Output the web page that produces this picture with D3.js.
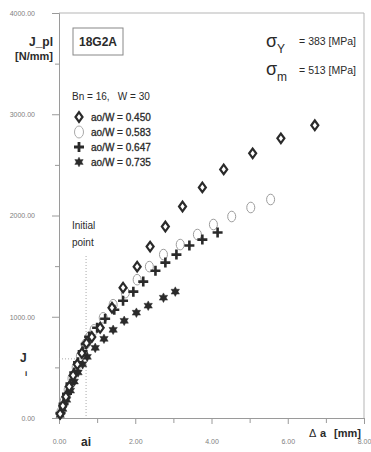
<!DOCTYPE html>
<html>
<head>
<meta charset="utf-8">
<script src="https://cdn.jsdelivr.net/npm/d3@7"></script>
<style>
  body { margin: 0; background: #fff; }
  svg { display: block; font-family: "Liberation Sans", Arial, sans-serif; }
  text { white-space: pre; }
</style>
</head>
<body>
<svg id="chart" width="371" height="452"></svg>
<script>
// crack growth da [mm] vs J [N/mm], four ao/W ratios
const da450 = [0.03, 0.10, 0.18, 0.27, 0.37, 0.48, 0.60, 0.72, 0.86, 1.08, 1.39, 1.68, 2.05, 2.39, 2.79, 3.24, 3.76, 4.32, 5.08, 5.82, 6.71];
const J450  = [40, 120, 210, 310, 420, 530, 640, 740, 800, 891, 1089, 1287, 1495, 1693, 1891, 2089, 2277, 2455, 2614, 2762, 2891];

const da583 = [0.05, 0.14, 0.24, 0.34, 0.45, 0.56, 0.70, 0.80, 0.92, 1.16, 1.42, 1.74, 2.05, 2.37, 2.74, 3.18, 3.63, 4.05, 4.53, 5.03, 5.55];
const J583  = [60, 170, 280, 390, 500, 610, 730, 800, 871, 990, 1119, 1238, 1366, 1495, 1614, 1713, 1812, 1911, 1990, 2079, 2158];

const da647 = [0.04, 0.12, 0.21, 0.30, 0.40, 0.50, 0.62, 0.70, 0.79, 1.00, 1.21, 1.45, 1.68, 1.95, 2.21, 2.53, 2.79, 3.08, 3.42, 3.76, 4.16];
const J647  = [50, 140, 240, 340, 450, 550, 660, 730, 802, 891, 980, 1069, 1158, 1248, 1347, 1455, 1535, 1614, 1703, 1762, 1832];

const da735 = [0.03, 0.10, 0.20, 0.30, 0.40, 0.50, 0.62, 0.74, 0.95, 1.18, 1.42, 1.71, 2.03, 2.34, 2.74, 3.05];
const J735  = [30, 90, 180, 270, 360, 450, 530, 604, 693, 782, 871, 960, 1040, 1109, 1188, 1248];

const xTicks = [0, 2, 4, 6, 8];
const yTicks = [0, 1000, 2000, 3000, 4000];
const legendLabels = ["ao/W = 0.450", "ao/W = 0.583", "ao/W = 0.647", "ao/W = 0.735"];
const ai = 0.71, Ji = 584;

const svg = d3.select("#chart");
const ink = "#2a2a2a";
const axisGrey = "#9a9a9a";

const x = d3.scaleLinear().domain([0, 8]).range([59, 364]);
const y = d3.scaleLinear().domain([0, 4000]).range([418, 13]);

// frame top + right
svg.append("path")
  .attr("d", `M${x(0)},${y(4000)}H${x(8)}V${y(0)}`)
  .attr("fill", "none").attr("stroke", "#b5b5b5").attr("stroke-width", 1);

// minor ticks
svg.append("g").attr("transform", `translate(0,${y(0)})`)
  .call(d3.axisBottom(x).tickValues([1, 3, 5, 7]).tickSize(5).tickFormat(""))
  .call(g => g.select(".domain").remove())
  .call(g => g.selectAll("line").attr("stroke", axisGrey));
svg.append("g").attr("transform", `translate(${x(0)},0)`)
  .call(d3.axisLeft(y).tickValues([500, 1500, 2500, 3500]).tickSize(4).tickFormat(""))
  .call(g => g.select(".domain").remove())
  .call(g => g.selectAll("line").attr("stroke", axisGrey));

const xAxis = svg.append("g").attr("transform", `translate(0,${y(0)})`)
  .call(d3.axisBottom(x).tickValues(xTicks).tickSizeOuter(0).tickSize(6).tickPadding(15).tickFormat(d3.format(".2f")));
const yAxis = svg.append("g").attr("transform", `translate(${x(0)},0)`)
  .call(d3.axisLeft(y).tickValues(yTicks).tickSizeOuter(0).tickSize(7).tickPadding(17).tickFormat(d3.format(".2f")));
[xAxis, yAxis].forEach(a => {
  a.select(".domain").attr("stroke", axisGrey);
  a.selectAll("line").attr("stroke", axisGrey);
  a.selectAll("text").attr("fill", "#808080").attr("font-size", 7);
});

// initial point guides
svg.append("line").attr("x1", x(ai)).attr("x2", x(ai)).attr("y1", y(1600)).attr("y2", y(0))
  .attr("stroke", "#aaa").attr("stroke-dasharray", "1,2");
svg.append("line").attr("x1", x(0)).attr("x2", x(ai)).attr("y1", y(Ji)).attr("y2", y(Ji))
  .attr("stroke", "#aaa").attr("stroke-dasharray", "1,2");

// markers
const diamond = "M0,-4.8L3.5,0L0,4.8L-3.5,0Z";
const plus = "M-5,0H5M0,-5V5";
const star = d3.range(12).map(i => {
  const r = i % 2 ? 2.7 : 4.8, a = i * Math.PI / 6;
  return [r * Math.sin(a), -r * Math.cos(a)];
});
const starPath = "M" + star.map(p => p.join(",")).join("L") + "Z";

function drawSeries(dx, J, kind) {
  const g = svg.append("g");
  const pts = dx.map((d, i) => [x(d), y(J[i])]);
  if (kind === "circle") {
    g.selectAll("ellipse").data(pts).join("ellipse")
      .attr("cx", d => d[0]).attr("cy", d => d[1]).attr("rx", 4).attr("ry", 5.3)
      .attr("fill", "none").attr("stroke", "#9c9c9c").attr("stroke-width", 1);
  } else {
    g.selectAll("path").data(pts).join("path")
      .attr("transform", d => `translate(${d[0]},${d[1]})`)
      .attr("d", kind === "diamond" ? diamond : kind === "plus" ? plus : starPath)
      .attr("fill", kind === "star" ? ink : kind === "diamond" ? "#fff" : "none")
      .attr("stroke", ink)
      .attr("stroke-width", kind === "plus" ? 2.6 : kind === "diamond" ? 2.2 : 0.5);
  }
}
drawSeries(da583, J583, "circle");
drawSeries(da735, J735, "star");
drawSeries(da647, J647, "plus");
drawSeries(da450, J450, "diamond");

// legend
const kinds = ["diamond", "circle", "plus", "star"];
const legY = [117, 132, 147, 162];
kinds.forEach((k, i) => {
  const g = svg.append("g").attr("transform", `translate(79,${legY[i]})`);
  if (k === "circle") {
    g.append("ellipse").attr("rx", 4.5).attr("ry", 6).attr("fill", "none").attr("stroke", "#aaa");
  } else {
    g.append("path").attr("d", k === "diamond" ? diamond : k === "plus" ? plus : starPath)
      .attr("fill", k === "star" ? ink : k === "diamond" ? "#fff" : "none")
      .attr("stroke", ink).attr("stroke-width", k === "plus" ? 2.8 : k === "diamond" ? 2.2 : 0.5);
  }
  svg.append("text").attr("x", 91).attr("y", legY[i] + 3.5).attr("font-size", 10)
    .attr("fill", ink).attr("stroke", ink).attr("stroke-width", 0.3).text(legendLabels[i]);
});

const txt = (xx, yy, s, size, opts = {}) => svg.append("text")
  .attr("x", xx).attr("y", yy).attr("font-size", size).attr("fill", opts.fill || ink)
  .attr("font-weight", opts.bold ? "bold" : null)
  .attr("text-anchor", opts.anchor || "start").text(s);

txt(72, 100, "Bn = 16,   W = 30", 10);
txt(72, 229, "Initial", 10);
txt(72, 246, "point", 10);

// box label
svg.append("rect").attr("x", 73).attr("y", 28).attr("width", 50).attr("height", 27)
  .attr("fill", "none").attr("stroke", "#888");
txt(98, 46, "18G2A", 12, { bold: true, anchor: "middle" });

// y axis title
txt(53, 46, "J_pl", 12, { bold: true, anchor: "end" });
txt(53, 60, "[N/mm]", 11, { bold: true, anchor: "end" });

// material properties
txt(266, 47, "σ", 18);
txt(277, 53, "Y", 12);
txt(356, 45, "= 383 [MPa]", 10.5, { anchor: "end" });
txt(266, 75, "σ", 18);
txt(277, 81, "m", 12);
txt(356, 74, "= 513 [MPa]", 10.5, { anchor: "end" });

// Ji, ai, delta a labels
txt(20, 362, "J", 12, { bold: true });
txt(25, 376, "i", 8, { bold: true });
txt(x(ai), 446, "ai", 12, { bold: true, anchor: "middle" });
txt(309, 437, "Δ", 11);
txt(320, 437, "a", 11, { bold: true });
txt(334, 437, "[mm]", 11, { bold: true });
</script>
</body>
</html>
